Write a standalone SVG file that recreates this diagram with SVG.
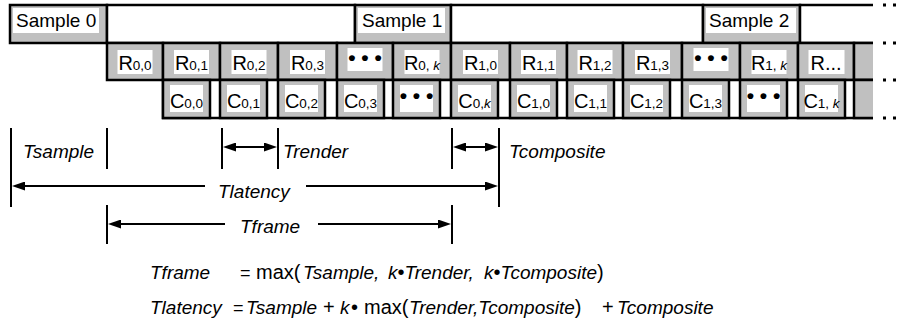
<svg xmlns="http://www.w3.org/2000/svg" width="903" height="326" viewBox="0 0 903 326">
<style>
.g{fill:#c0c0c0;stroke:#000;stroke-width:2.5}
.w{fill:#fff;stroke:#000;stroke-width:2.5}
.ln{fill:none;stroke:#000;stroke-width:2.5}
.lb{fill:#fff;stroke:none}
text{font-family:"Liberation Sans",Arial,Helvetica,sans-serif;fill:#000}
.t{font-size:19px}
.c{font-size:20px;text-anchor:middle}
.s{font-size:13.5px}
.i{font-style:italic}
.b{font-size:21px;font-weight:bold;text-anchor:middle}
.tk{stroke:#000;stroke-width:2;fill:none}
.ar{stroke:#000;stroke-width:2;fill:none;marker-end:url(#ah)}
.ar2{stroke:#000;stroke-width:2;fill:none;marker-end:url(#ah);marker-start:url(#ah)}
.dot{stroke:#000;stroke-width:3;stroke-dasharray:3 7;fill:none}
.f{font-size:19px;font-style:italic}
.r{font-size:20px}
.e{font-size:18px}
</style>
<defs>
<marker id="ah" viewBox="0 0 13 9" refX="9" refY="4.5" markerWidth="13" markerHeight="9" markerUnits="userSpaceOnUse" orient="auto-start-reverse"><path d="M0,0 L13,4.5 L0,9 z" fill="#000"/></marker>
</defs>

<!-- Row 1: samples -->
<g id="sample0"><rect class="g" x="10" y="5" width="97" height="38"/><rect class="lb" x="13" y="8" width="86" height="25"/><text class="t" x="16" y="27">Sample 0</text></g>
<g id="idle0"><rect class="w" x="107" y="5" width="248" height="38"/></g>
<g id="sample1"><rect class="g" x="355" y="5" width="96" height="38"/><rect class="lb" x="358" y="8" width="87" height="25"/><text class="t" x="362" y="27">Sample 1</text></g>
<g id="idle1"><rect class="w" x="451" y="5" width="252" height="38"/></g>
<g id="sample2"><rect class="g" x="703" y="5" width="97" height="38"/><rect class="lb" x="706" y="8" width="90" height="25"/><text class="t" x="709" y="27">Sample 2</text></g>
<g id="idle2"><rect x="800" y="5" width="73" height="38" fill="#fff"/><path class="ln" d="M873,5 H800 V43 H873"/></g>

<!-- Row 2: render -->
<g id="r00"><rect class="g" x="107" y="43" width="56" height="37"/><rect class="lb" x="117.5" y="50" width="35" height="24"/><text class="c" x="135" y="70">R<tspan class="s">0,0</tspan></text></g>
<g id="r01"><rect class="g" x="163" y="43" width="57" height="37"/><rect class="lb" x="174" y="50" width="35" height="24"/><text class="c" x="191.5" y="70">R<tspan class="s">0,1</tspan></text></g>
<g id="r02"><rect class="g" x="220" y="43" width="58" height="37"/><rect class="lb" x="231.5" y="50" width="35" height="24"/><text class="c" x="249" y="70">R<tspan class="s">0,2</tspan></text></g>
<g id="r03"><rect class="g" x="278" y="43" width="59" height="37"/><rect class="lb" x="290" y="50" width="35" height="24"/><text class="c" x="307.5" y="70">R<tspan class="s">0,3</tspan></text></g>
<g id="r0dots"><rect class="g" x="337" y="43" width="56" height="37"/><rect class="lb" x="347.5" y="48" width="35" height="23"/><text class="b" x="365" y="65">• • •</text></g>
<g id="r0k"><rect class="g" x="393" y="43" width="58" height="37"/><rect class="lb" x="404.5" y="50" width="35" height="24"/><text class="c" x="422" y="70">R<tspan class="s">0, <tspan class="i">k</tspan></tspan></text></g>
<g id="r10"><rect class="g" x="451" y="43" width="59" height="37"/><rect class="lb" x="463" y="50" width="35" height="24"/><text class="c" x="480.5" y="70">R<tspan class="s">1,0</tspan></text></g>
<g id="r11"><rect class="g" x="510" y="43" width="57" height="37"/><rect class="lb" x="521" y="50" width="35" height="24"/><text class="c" x="538.5" y="70">R<tspan class="s">1,1</tspan></text></g>
<g id="r12"><rect class="g" x="567" y="43" width="56" height="37"/><rect class="lb" x="577.5" y="50" width="35" height="24"/><text class="c" x="595" y="70">R<tspan class="s">1,2</tspan></text></g>
<g id="r13"><rect class="g" x="623" y="43" width="59" height="37"/><rect class="lb" x="635" y="50" width="35" height="24"/><text class="c" x="652.5" y="70">R<tspan class="s">1,3</tspan></text></g>
<g id="r1dots"><rect class="g" x="682" y="43" width="58" height="37"/><rect class="lb" x="693.5" y="48" width="35" height="23"/><text class="b" x="711" y="65">• • •</text></g>
<g id="r1k"><rect class="g" x="740" y="43" width="58" height="37"/><rect class="lb" x="751.5" y="50" width="35" height="24"/><text class="c" x="769" y="70">R<tspan class="s">1, <tspan class="i">k</tspan></tspan></text></g>
<g id="rnext"><rect class="g" x="798" y="43" width="56" height="37"/><rect class="lb" x="808.5" y="50" width="36" height="24"/><text class="c" x="826" y="70">R...</text></g>
<g id="rtail"><rect x="854" y="43" width="19" height="37" fill="#c0c0c0"/><path class="ln" d="M873,43 H854 V80 H873"/></g>

<!-- Row 3: composite -->
<g id="ctrack"><rect x="163" y="80" width="710" height="38" fill="#fff"/><path class="ln" d="M873,80 H163 V118 H873"/></g>
<g id="c00"><rect class="g" x="163" y="80" width="47" height="38"/><rect class="lb" x="170" y="85" width="33" height="27"/><text class="c" x="186.5" y="108">C<tspan class="s">0,0</tspan></text></g>
<g id="c01"><rect class="g" x="220" y="80" width="47" height="38"/><rect class="lb" x="227" y="85" width="33" height="27"/><text class="c" x="243.5" y="108">C<tspan class="s">0,1</tspan></text></g>
<g id="c02"><rect class="g" x="278" y="80" width="47" height="38"/><rect class="lb" x="285" y="85" width="33" height="27"/><text class="c" x="301.5" y="108">C<tspan class="s">0,2</tspan></text></g>
<g id="c03"><rect class="g" x="337" y="80" width="47" height="38"/><rect class="lb" x="344" y="85" width="33" height="27"/><text class="c" x="360.5" y="108">C<tspan class="s">0,3</tspan></text></g>
<g id="c0dots"><rect class="g" x="393" y="80" width="47" height="38"/><rect class="lb" x="400" y="85" width="33" height="27"/><text class="b" x="416.5" y="103">• • •</text></g>
<g id="c0k"><rect class="g" x="451" y="80" width="47" height="38"/><rect class="lb" x="458" y="85" width="33" height="27"/><text class="c" x="474.5" y="108">C<tspan class="s">0,<tspan class="i">k</tspan></tspan></text></g>
<g id="c10"><rect class="g" x="510" y="80" width="47" height="38"/><rect class="lb" x="517" y="85" width="33" height="27"/><text class="c" x="533.5" y="108">C<tspan class="s">1,0</tspan></text></g>
<g id="c11"><rect class="g" x="567" y="80" width="47" height="38"/><rect class="lb" x="574" y="85" width="33" height="27"/><text class="c" x="590.5" y="108">C<tspan class="s">1,1</tspan></text></g>
<g id="c12"><rect class="g" x="623" y="80" width="47" height="38"/><rect class="lb" x="630" y="85" width="33" height="27"/><text class="c" x="646.5" y="108">C<tspan class="s">1,2</tspan></text></g>
<g id="c13"><rect class="g" x="682" y="80" width="47" height="38"/><rect class="lb" x="689" y="85" width="33" height="27"/><text class="c" x="705.5" y="108">C<tspan class="s">1,3</tspan></text></g>
<g id="c1dots"><rect class="g" x="740" y="80" width="47" height="38"/><rect class="lb" x="747" y="85" width="33" height="27"/><text class="b" x="763.5" y="103">• • •</text></g>
<g id="c1k"><rect class="g" x="798" y="80" width="47" height="38"/><rect class="lb" x="805" y="85" width="33" height="27"/><text class="c" x="821.5" y="108">C<tspan class="s">1, <tspan class="i">k</tspan></tspan></text></g>
<g id="ctail"><rect x="854" y="80" width="19" height="38" fill="#c0c0c0"/><path class="ln" d="M873,80 H854 V118 H873"/></g>

<!-- continuation dots -->
<g id="continuation">
<path class="dot" d="M883,5 H903 M883,43 H903 M883,80 H903 M883,118 H903"/>
</g>

<!-- connectors: timing ticks and arrows -->
<g id="connectors">
<path class="tk" d="M11,128 V207 M107,128 V169 M222,128 V169 M278,128 V169 M452,128 V169 M499,128 V207 M107,205 V244 M452,205 V244"/>
<path class="ar2" d="M227,147 H273"/>
<path class="ar2" d="M457,147 H494"/>
<path class="ar" d="M205,186 H16"/>
<path class="ar" d="M306,186 H494"/>
<path class="ar" d="M225,224 H112"/>
<path class="ar" d="M318,224 H447"/>
</g>

<!-- timing labels -->
<g id="labels">
<text class="t i" x="23" y="158">Tsample</text>
<text class="t i" x="283" y="158">Trender</text>
<text class="t i" x="509" y="158">Tcomposite</text>
<text class="t i" x="218" y="198">Tlatency</text>
<text class="t i" x="240" y="233">Tframe</text>
</g>

<!-- formulas -->
<g id="formulas">
<text y="279"><tspan class="f" x="150">Tframe</tspan><tspan class="e" x="240">=</tspan><tspan class="r" x="256">max(</tspan><tspan class="f" x="303">Tsample,</tspan><tspan class="f" x="388">k</tspan><tspan class="r">•</tspan><tspan class="f">Trender,</tspan><tspan class="f" x="484">k</tspan><tspan class="r">•</tspan><tspan class="f">Tcomposite</tspan><tspan class="r">)</tspan></text>
<text y="314"><tspan class="f" x="150">Tlatency</tspan><tspan class="e" x="233">=</tspan><tspan class="f" x="246">Tsample</tspan><tspan class="r" x="323">+</tspan><tspan class="f" x="340">k</tspan><tspan class="r" x="351">•</tspan><tspan class="r" x="364">max(</tspan><tspan class="f" x="409">Trender,</tspan><tspan class="f">Tcomposite</tspan><tspan class="r">)</tspan><tspan class="r" x="602">+</tspan><tspan class="f" x="617">Tcomposite</tspan></text>
</g>
</svg>
